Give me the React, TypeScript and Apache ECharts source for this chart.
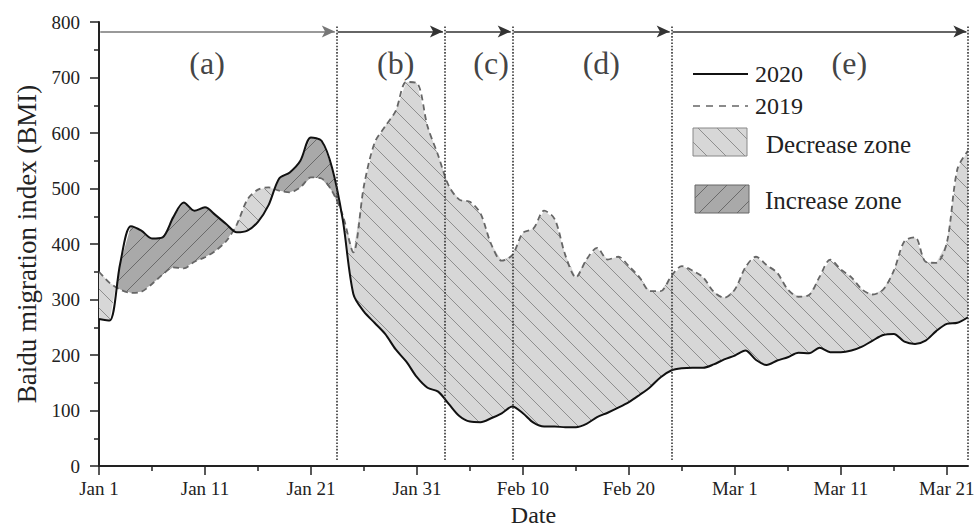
import React, { useEffect, useRef } from 'react';
import * as echarts from 'echarts';

// ---- data (x = days since Jan 1, 2020) ----
const bmi2020 = [
  265, 262, 365, 432, 424, 410, 412, 448, 475, 460,
  466, 452, 436, 421, 424, 440, 470, 518, 529, 550,
  592, 586, 537, 444, 310, 278, 258, 238, 210, 188,
  160, 141, 134, 112, 90, 80, 79, 86, 95, 107,
  95, 78, 71, 71, 70, 70, 76, 88, 96, 105,
  115, 128, 142, 160, 172, 176, 177, 177, 183, 192,
  199, 208, 191, 182, 190, 196, 204, 203, 213, 205,
  205, 208, 215, 226, 236, 238, 224, 220, 226, 243,
  256, 258, 268,
];
const bmi2019 = [
  350, 330, 318, 312, 314, 328, 345, 358, 356, 368,
  376, 388, 405, 435, 480, 498, 502, 496, 493, 502,
  520, 518, 495, 452, 385, 505, 582, 612, 640, 692,
  690, 612, 560, 505, 480, 476, 455, 400, 370, 380,
  420, 428, 460, 445, 380, 340, 372, 393, 372, 377,
  360, 340, 315, 315, 342, 360, 352, 340, 314, 303,
  318, 358, 377, 362, 348, 318, 305, 308, 341, 372,
  354, 340, 318, 309, 318, 352, 405, 412, 368, 366,
  402, 535, 568,
];
const tickDays = [0, 10, 20, 30, 40, 50, 60, 70, 80];
const tickLabels = ['Jan 1', 'Jan 11', 'Jan 21', 'Jan 31', 'Feb 10', 'Feb 20', 'Mar 1', 'Mar 11', 'Mar 21'];
const minorTickDays = [5, 15, 25, 35, 45, 55, 65, 75];
const sectionBounds = [0, 22.4, 32.6, 39.0, 54.0, 82];
const sectionLabels = ['(a)', '(b)', '(c)', '(d)', '(e)'];
const sectionLabelDays = [10.2, 28.0, 37.0, 47.4, 70.8];

const FONT = "'Liberation Serif', 'Times New Roman', serif";

function hatch(bg: string, stroke: string, dir: 'back' | 'fwd') {
  const s = 19;
  const d =
    dir === 'back'
      ? `M-2,-2L${s + 2},${s + 2}M-2,${s - 2}L2,${s + 2}M${s - 2},-2L${s + 2},2`
      : `M-2,${s + 2}L${s + 2},-2M-2,2L2,-2M${s - 2},${s + 2}L${s + 2},${s - 2}`;
  const svg = `<svg xmlns="http://www.w3.org/2000/svg" width="${s}" height="${s}"><rect width="${s}" height="${s}" fill="${bg}"/><path d="${d}" stroke="${stroke}" stroke-width="1" fill="none"/></svg>`;
  return {
    image: 'data:image/svg+xml;charset=utf-8,' + encodeURIComponent(svg),
    repeat: 'repeat',
    imageWidth: s,
    imageHeight: s,
  };
}

type Region = { sign: number; top: number[][]; bot: number[][] };

function buildRegions(): Region[] {
  const regions: Region[] = [];
  let cur: Region | null = null;
  for (let i = 0; i < bmi2020.length; i++) {
    const a = bmi2019[i];
    const b = bmi2020[i];
    const sign = a - b >= 0 ? 1 : -1;
    if (!cur) {
      cur = { sign, top: [[i, a]], bot: [[i, b]] };
    } else if (sign === cur.sign) {
      cur.top.push([i, a]);
      cur.bot.push([i, b]);
    } else {
      const d0 = bmi2019[i - 1] - bmi2020[i - 1];
      const d1 = a - b;
      const t = d0 / (d0 - d1);
      const xi = i - 1 + t;
      const yi = bmi2020[i - 1] + t * (b - bmi2020[i - 1]);
      cur.top.push([xi, yi]);
      cur.bot.push([xi, yi]);
      regions.push(cur);
      cur = { sign, top: [[xi, yi], [i, a]], bot: [[xi, yi], [i, b]] };
    }
  }
  if (cur) regions.push(cur);
  return regions;
}

export default function App() {
  const ref = useRef<HTMLDivElement>(null);
  useEffect(() => {
    if (!ref.current) return;
    const chart = echarts.init(ref.current, null, { renderer: 'svg' });
    const lightPat = hatch('#d7d7d7', '#8e8e8e', 'back');
    const darkPat = hatch('#a9a9a9', '#6a6a6a', 'fwd');
    const regions = buildRegions();

    const arrowData = sectionLabels.map((_, i) => [
      { coord: [sectionBounds[i] + 0.12, 783], lineStyle: { color: i === 0 ? '#777' : '#333' } },
      { coord: [sectionBounds[i + 1] - 0.15, 783] },
    ]);
    const dottedData = sectionBounds.slice(1).map((d) => [
      { coord: [d, 792] },
      { coord: [d, 10] },
    ]);

    const option: any = {
      animation: false,
      backgroundColor: '#fff',
      grid: { left: 99, right: 10, top: 22, bottom: 61, containLabel: false, outerBoundsMode: 'none' },
      xAxis: [
        {
          type: 'value',
          min: 0,
          max: 82,
          interval: 10,
          name: 'Date',
          nameLocation: 'middle',
          nameGap: 34,
          nameTextStyle: { fontFamily: FONT, fontSize: 24, color: '#222' },
          axisLine: { show: true, onZero: false, lineStyle: { color: '#222', width: 2 } },
          axisTick: { show: true, length: 9, customValues: tickDays, lineStyle: { color: '#222', width: 1.5 } },
          axisLabel: {
            show: true,
            margin: 13,
            customValues: tickDays,
            fontFamily: FONT,
            fontSize: 19,
            color: '#222',
            formatter: (v: number) => {
              const k = tickDays.indexOf(Math.round(v));
              return k >= 0 ? tickLabels[k] : '';
            },
          },
          splitLine: { show: false },
        },
        {
          type: 'value',
          position: 'bottom',
          min: 0,
          max: 82,
          interval: 5,
          axisLine: { show: false },
          axisTick: { show: true, length: 5, customValues: minorTickDays, lineStyle: { color: '#222', width: 1.5 } },
          axisLabel: { show: false },
          splitLine: { show: false },
        },
      ],
      yAxis: {
        type: 'value',
        min: 0,
        max: 800,
        interval: 100,
        name: 'Baidu migration index (BMI)',
        nameLocation: 'middle',
        nameGap: 58,
        nameTextStyle: { fontFamily: FONT, fontSize: 27, color: '#222' },
        axisLine: { show: true, lineStyle: { color: '#222', width: 2 } },
        axisTick: { show: true, length: 9, lineStyle: { color: '#222', width: 1.5 } },
        minorTick: { show: true, splitNumber: 2, length: 5, lineStyle: { color: '#222', width: 1.5 } },
        axisLabel: { margin: 19, fontFamily: FONT, fontSize: 19, color: '#222' },
        splitLine: { show: false },
      },
      series: [
        {
          type: 'custom',
          coordinateSystem: 'cartesian2d',
          silent: true,
          z: 1,
          data: [[0, 0]],
          renderItem: (_params: any, api: any) => ({
            type: 'group',
            children: regions.map((r) => ({
              type: 'polygon',
              shape: {
                points: r.top.concat(r.bot.slice().reverse()).map((p) => api.coord(p)),
              },
              style: { fill: r.sign > 0 ? lightPat : darkPat, stroke: null },
            })),
          }),
        },
        {
          name: '2019',
          type: 'line',
          z: 3,
          smooth: 0.3,
          showSymbol: false,
          silent: true,
          data: bmi2019.map((v, i) => [i, v]),
          lineStyle: { color: '#666', width: 1.8, type: [6, 4] },
        },
        {
          name: '2020',
          type: 'line',
          z: 4,
          smooth: 0.3,
          showSymbol: false,
          silent: true,
          data: bmi2020.map((v, i) => [i, v]),
          lineStyle: { color: '#111', width: 2 },
          markLine: {
            silent: true,
            symbol: 'none',
            label: { show: false },
            lineStyle: { type: 'dotted', color: '#333', width: 1.6 },
            data: dottedData,
          },
        },
        {
          type: 'line',
          z: 5,
          silent: true,
          data: [],
          markLine: {
            silent: true,
            symbol: ['none', 'arrow'],
            symbolSize: [9, 13],
            label: { show: false },
            lineStyle: { type: 'solid', color: '#333', width: 1.5 },
            data: arrowData,
          },
        },
        {
          type: 'scatter',
          z: 6,
          silent: true,
          symbolSize: 1,
          itemStyle: { color: 'rgba(0,0,0,0)' },
          data: sectionLabels.map((t, i) => ({
            value: [sectionLabelDays[i], 726],
            label: { formatter: t },
          })),
          label: {
            show: true,
            position: 'inside',
            fontFamily: FONT,
            fontSize: 32,
            color: '#111',
          },
        },
      ],
      graphic: [
        { type: 'line', shape: { x1: 693, y1: 74, x2: 748, y2: 74 }, style: { stroke: '#111', lineWidth: 2 } },
        { type: 'text', x: 755, y: 74, style: { text: '2020', font: `24px ${FONT}`, fill: '#222', verticalAlign: 'middle' } },
        { type: 'line', shape: { x1: 693, y1: 106, x2: 748, y2: 106 }, style: { stroke: '#666', lineWidth: 1.5, lineDash: [7, 6] } },
        { type: 'text', x: 755, y: 106, style: { text: '2019', font: `24px ${FONT}`, fill: '#222', verticalAlign: 'middle' } },
        { type: 'rect', shape: { x: 693, y: 128, width: 54, height: 28 }, style: { fill: lightPat, stroke: '#888', lineWidth: 1 } },
        { type: 'text', x: 766, y: 144, style: { text: 'Decrease zone', font: `25px ${FONT}`, fill: '#222', verticalAlign: 'middle' } },
        { type: 'rect', shape: { x: 695, y: 185, width: 54, height: 28 }, style: { fill: darkPat, stroke: '#666', lineWidth: 1 } },
        { type: 'text', x: 765, y: 200, style: { text: 'Increase zone', font: `25px ${FONT}`, fill: '#222', verticalAlign: 'middle' } },
      ],
    };
    chart.setOption(option);
    return () => chart.dispose();
  }, []);
  return (
    <div
      ref={ref}
      style={{ position: 'fixed', left: 0, top: 0, width: 978, height: 527, background: '#fff' }}
    />
  );
}
